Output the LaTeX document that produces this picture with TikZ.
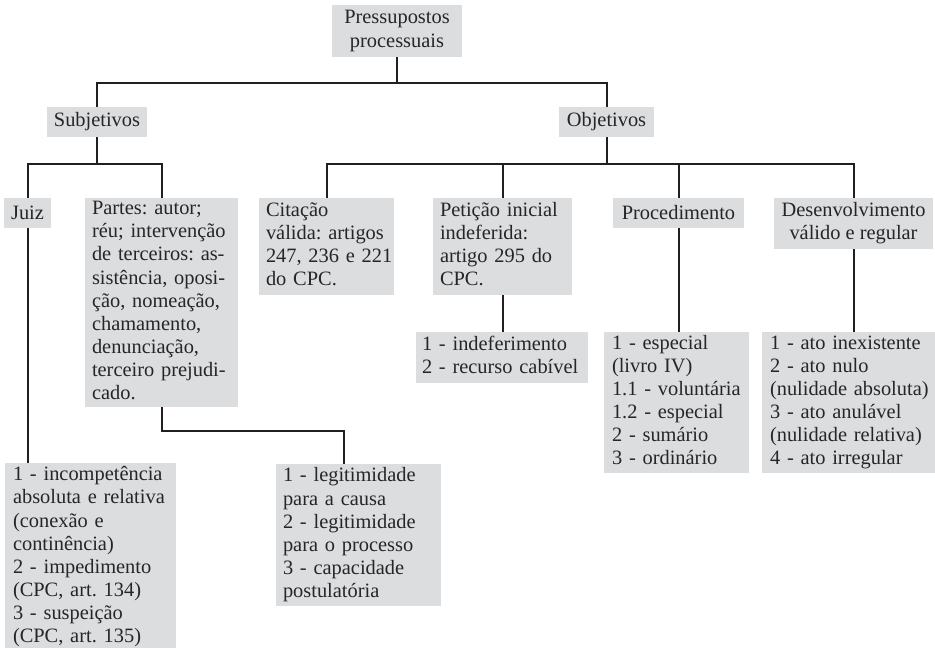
\documentclass[tikz,border=0pt]{standalone}
\usepackage{fontspec}
\setmainfont{Liberation Serif}
\usetikzlibrary{calc}
\definecolor{boxgray}{RGB}{220,221,223}
\definecolor{linecol}{RGB}{35,31,32}
\frenchspacing
\newcommand{\txtlines}[1]{\noindent\begin{tabular}{@{}l@{}}#1\end{tabular}}
\begin{document}
\begin{tikzpicture}[x=0.75pt,y=-0.75pt,
  base/.style={fill=boxgray, inner ysep=0pt, font=\fontsize{15.3pt}{17.3pt}\selectfont\frenchspacing, text=black!85},
  cbox/.style={base, align=center, inner xsep=0pt},
  lbox/.style={base, align=left},
  conn/.style={draw=linecol, line width=1.5pt, line join=miter}]
\useasboundingbox (0,0) rectangle (935,647);

% level 0
\node[cbox, minimum width=97.5pt, minimum height=39pt] (root) at (397,31) {Pressupostos\\processuais};
% level 1
\node[cbox, minimum width=75pt, minimum height=22.5pt] (subj) at (97,122) {Subjetivos};
\node[cbox, minimum width=71.25pt, minimum height=22.5pt] (obj) at (606.5,122) {Objetivos};
% level 2
\node[cbox, minimum width=35.25pt, minimum height=22.5pt] (juiz) at (27.5,213) {Juiz};
\node[lbox, inner xsep=5.25pt, text width=104.25pt, minimum width=114.75pt, minimum height=156.75pt] (partes) at (161.5,302.5)
  {\txtlines{Partes: autor;\\réu; intervenção\\de terceiros: as-\\sistência, oposi-\\ção, nomeação,\\chamamento,\\denunciação,\\terceiro prejudi-\\cado.}};
\node[lbox, inner xsep=5.25pt, text width=90.75pt, minimum width=101.25pt, minimum height=72.75pt] (citacao) at (326.5,246.5)
  {\txtlines{Citação\\válida: artigos\\247, 236 e 221\\do CPC.}};
\node[lbox, inner xsep=5.25pt, text width=93.75pt, minimum width=104.25pt, minimum height=72.75pt] (peticao) at (502.5,246.5)
  {\txtlines{Petição inicial\\indeferida:\\artigo 295 do\\CPC.}};
\node[cbox, minimum width=98.25pt, minimum height=22.5pt] (proc) at (678.5,213) {Procedimento};
\node[cbox, minimum width=119.25pt, minimum height=38.25pt] (desenv) at (853.5,223.5) {Desenvolvimento\\válido e regular};
% level 3
\node[lbox, inner xsep=4.5pt, text width=120pt, minimum width=129pt, minimum height=38.25pt] (indef) at (502,357.5)
  {\txtlines{1 - indeferimento\\2 - recurso cabível}};
\node[lbox, inner xsep=6pt, text width=96.75pt, minimum width=108.75pt, minimum height=105.75pt] (proclist) at (676.5,402.5)
  {\txtlines{1 - especial\\(livro IV)\\1.1 - voluntária\\1.2 - especial\\2 - sumário\\3 - ordinário}};
\node[lbox, inner xsep=6pt, text width=117.75pt, minimum width=129.75pt, minimum height=105.75pt] (desenvlist) at (848.5,402.5)
  {\txtlines{1 - ato inexistente\\2 - ato nulo\\(nulidade absoluta)\\3 - ato anulável\\(nulidade relativa)\\4 - ato irregular}};
\node[lbox, inner xsep=6pt, text width=116.25pt, minimum width=128.25pt, minimum height=141pt] (incomp) at (90.5,557)
  {\txtlines{1 - incompetência\\absoluta e relativa\\(conexão e\\continência)\\2 - impedimento\\(CPC, art. 134)\\3 - suspeição\\(CPC, art. 135)}};
\node[lbox, inner xsep=5.25pt, text width=113.25pt, minimum width=123.75pt, minimum height=106.5pt] (legit) at (358.5,535)
  {\txtlines{1 - legitimidade\\para a causa\\2 - legitimidade\\para o processo\\3 - capacidade\\postulatória}};

% connectors
\coordinate (lev1) at (0,83);
\coordinate (lev2) at (0,164);
\coordinate (pl) at (344,431);
\draw[conn] (root.south) -- (root.south |- lev1);
\draw[conn] (subj.north) |- (obj.north |- lev1) -- (obj.north);
\draw[conn] (subj.south) -- (subj.south |- lev2);
\draw[conn] (juiz.north) |- (partes.north |- lev2) -- (partes.north);
\draw[conn] (obj.south) -- (obj.south |- lev2);
\draw[conn] (citacao.north) |- (desenv.north |- lev2) -- (desenv.north);
\draw[conn] (peticao.north) -- (peticao.north |- lev2);
\draw[conn] (proc.north) -- (proc.north |- lev2);
\draw[conn] (juiz.south) -- (juiz.south |- incomp.north);
\draw[conn] (partes.south) |- (pl) -- (pl |- legit.north);
\draw[conn] (peticao.south) -- (peticao.south |- indef.north);
\draw[conn] (proc.south) -- (proc.south |- proclist.north);
\draw[conn] (desenv.south) -- (desenv.south |- desenvlist.north);
\end{tikzpicture}
\end{document}
